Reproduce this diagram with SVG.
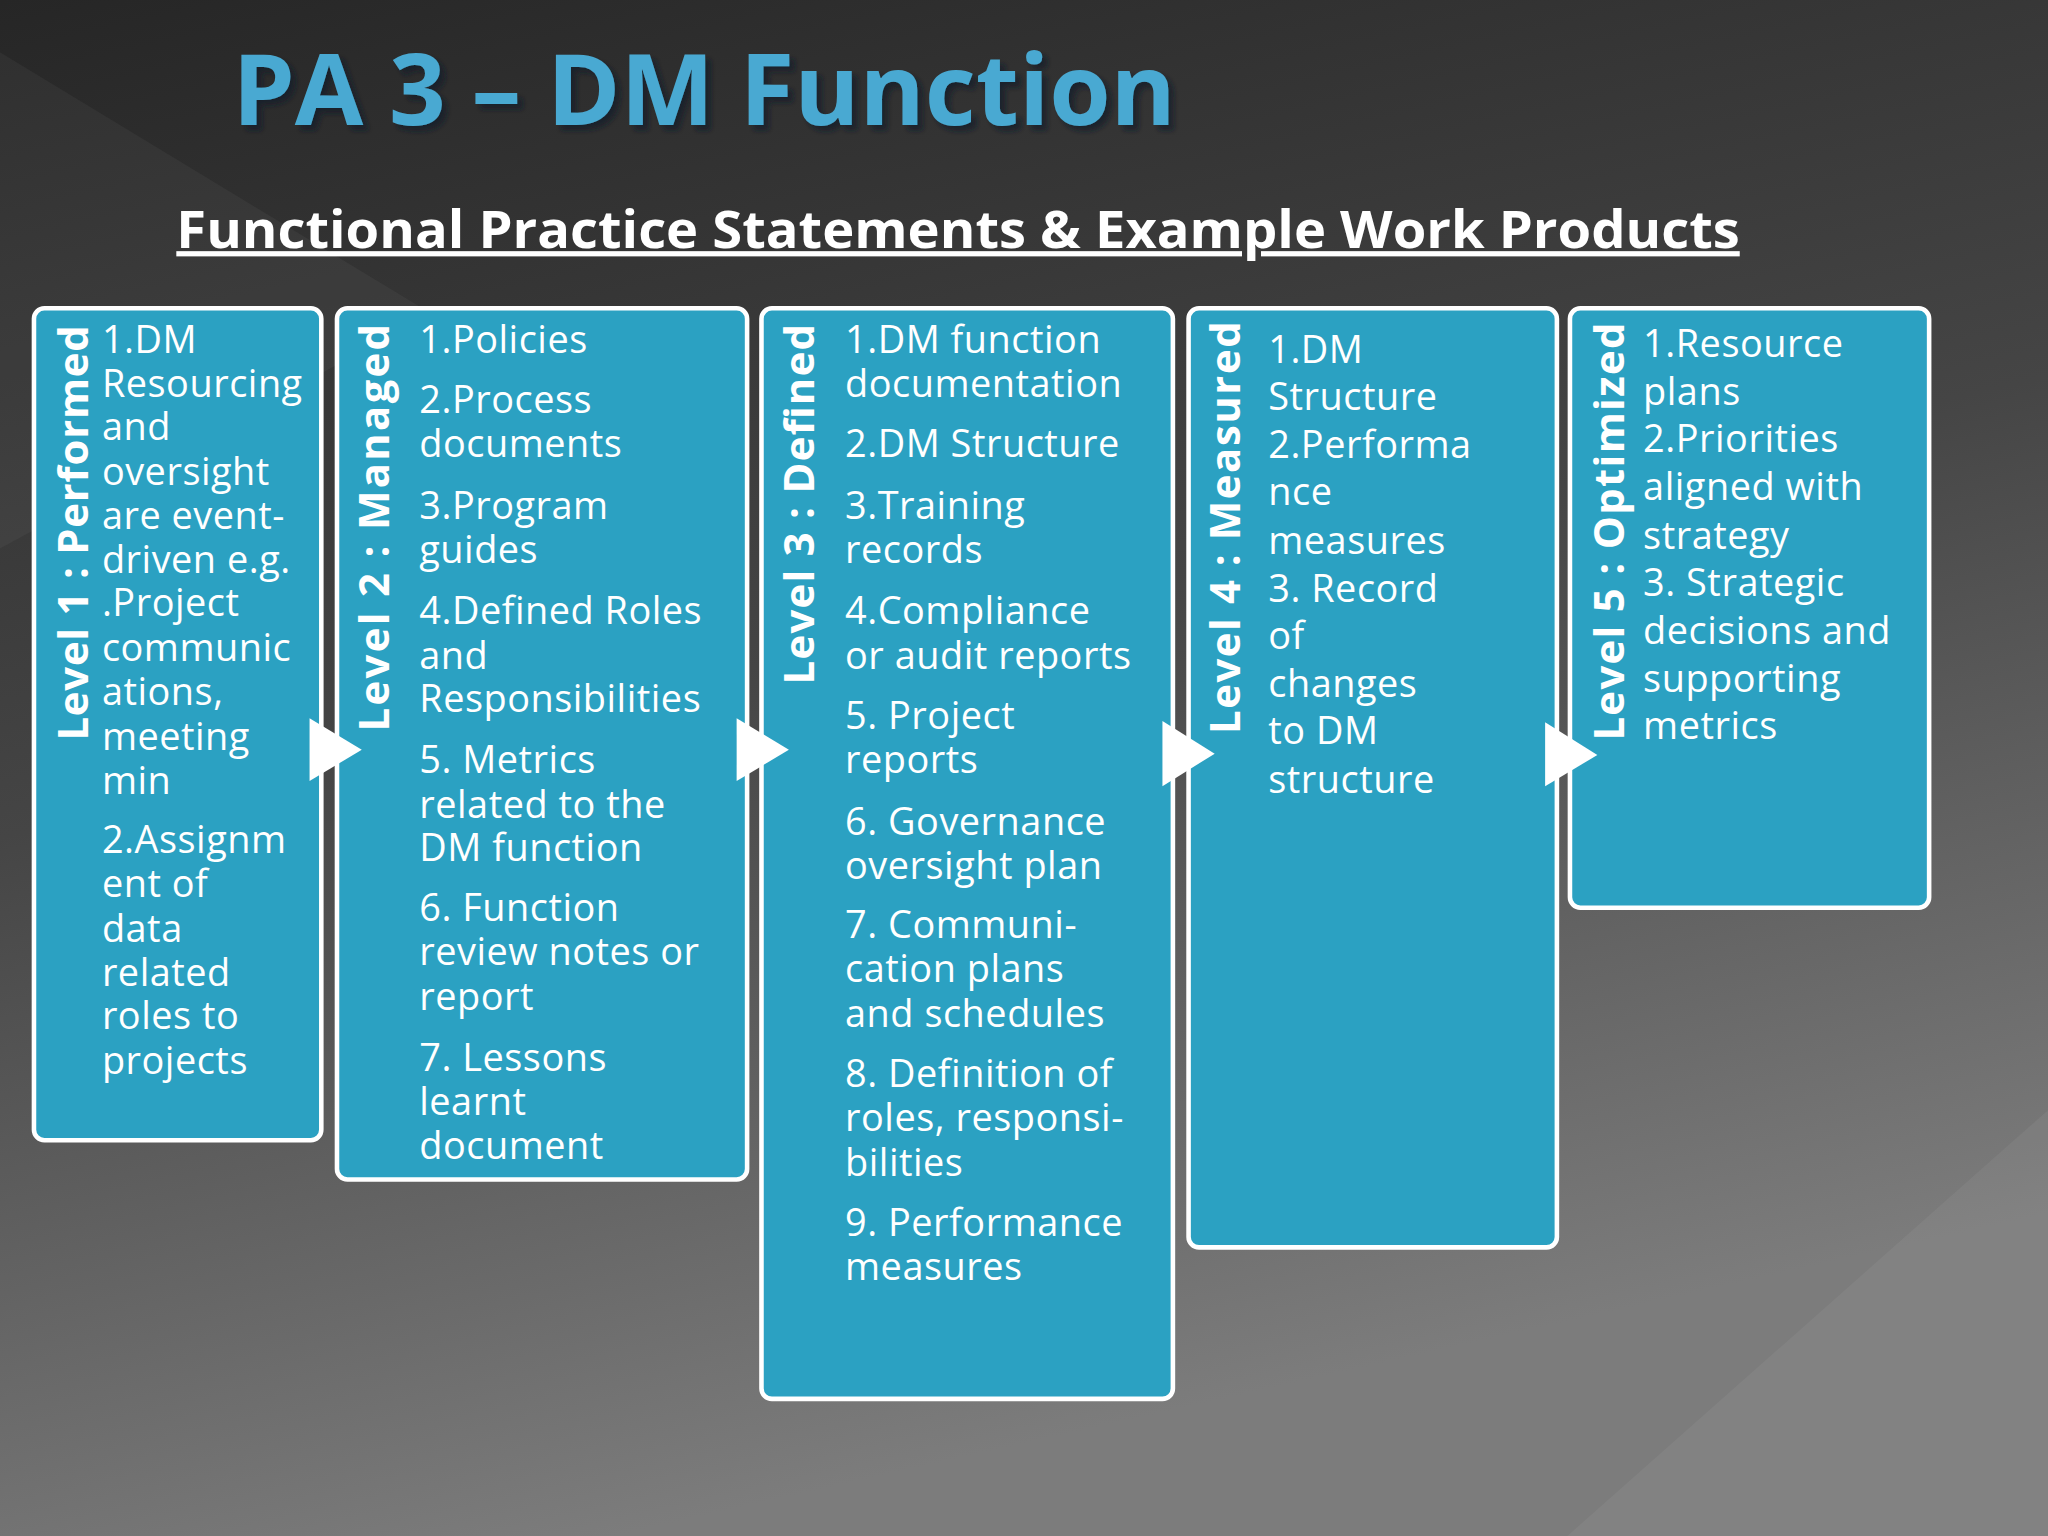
<svg xmlns="http://www.w3.org/2000/svg" width="2048" height="1536" viewBox="0 0 2048 1536">
<defs>
<linearGradient id="bg" x1="0" y1="0" x2="0.3" y2="1"><stop offset="0" stop-color="#262626"/><stop offset="0.5" stop-color="#454545"/><stop offset="1" stop-color="#7c7c7c"/></linearGradient>
<filter id="sh" x="-5%" y="-20%" width="110%" height="140%"><feDropShadow dx="4" dy="4" stdDeviation="2" flood-color="#0a1a25" flood-opacity="0.7"/></filter>
<style>
.box{fill:#2ba1c2;stroke:#fff;stroke-width:3.5}
.t{font-family:"Open Sans","DejaVu Sans",sans-serif;font-size:29px;fill:#fff;letter-spacing:0.4px}
.lv{font-family:"Open Sans","DejaVu Sans",sans-serif;font-size:32px;font-weight:bold;fill:#fff}
.arr{fill:#fff}
</style>
</defs>
<g transform="scale(1.30612)">
<rect width="1568" height="1176" fill="url(#bg)"/>
<polygon points="0,40 330,240 0,420" fill="#ffffff" opacity="0.04"/>
<polygon points="1568,850 1568,1176 1200,1176" fill="#ffffff" opacity="0.05"/>
<text x="178" y="96" font-family="'Open Sans','DejaVu Sans',sans-serif" font-size="76" font-weight="bold" fill="#4aa9d2" filter="url(#sh)">PA 3 – DM Function</text>
<text x="135" y="190" font-family="'Open Sans','DejaVu Sans',sans-serif" font-size="40" font-weight="bold" fill="#fff" text-decoration="underline" textLength="1197" lengthAdjust="spacingAndGlyphs">Functional Practice Statements &amp; Example Work Products</text>
<g id="level1"><rect class="box" x="26" y="236" width="220" height="637" rx="8"/>
<text class="lv" transform="translate(67,567) rotate(-90)" textLength="318">Level 1 : Performed</text>
<text class="t"><tspan x="78" y="270">1.DM</tspan><tspan x="78" y="304">Resourcing</tspan><tspan x="78" y="337">and</tspan><tspan x="78" y="371">oversight</tspan><tspan x="78" y="405">are event-</tspan><tspan x="78" y="439">driven e.g.</tspan><tspan x="78" y="472">.Project</tspan><tspan x="78" y="506">communic</tspan><tspan x="78" y="540">ations,</tspan><tspan x="78" y="574">meeting</tspan><tspan x="78" y="608">min</tspan><tspan x="78" y="653">2.Assignm</tspan><tspan x="78" y="687">ent of</tspan><tspan x="78" y="721">data</tspan><tspan x="78" y="755">related</tspan><tspan x="78" y="788">roles to</tspan><tspan x="78" y="822">projects</tspan></text></g>
<g id="level2"><rect class="box" x="258" y="236" width="314" height="667" rx="8"/>
<text class="lv" transform="translate(298,560) rotate(-90)" textLength="312">Level 2 : Managed</text>
<text class="t"><tspan x="321" y="270">1.Policies</tspan><tspan x="321" y="316">2.Process</tspan><tspan x="321" y="350">documents</tspan><tspan x="321" y="397">3.Program</tspan><tspan x="321" y="431">guides</tspan><tspan x="321" y="478">4.Defined Roles</tspan><tspan x="321" y="512">and</tspan><tspan x="321" y="545">Responsibilities</tspan><tspan x="321" y="592">5. Metrics</tspan><tspan x="321" y="626">related to the</tspan><tspan x="321" y="659">DM function</tspan><tspan x="321" y="705">6. Function</tspan><tspan x="321" y="739">review notes or</tspan><tspan x="321" y="773">report</tspan><tspan x="321" y="820">7. Lessons</tspan><tspan x="321" y="854">learnt</tspan><tspan x="321" y="887">document</tspan></text></g>
<g id="level3"><rect class="box" x="583" y="236" width="315" height="835" rx="8"/>
<text class="lv" transform="translate(623,524) rotate(-90)" textLength="276">Level 3 : Defined</text>
<text class="t"><tspan x="647" y="270">1.DM function</tspan><tspan x="647" y="304">documentation</tspan><tspan x="647" y="350">2.DM Structure</tspan><tspan x="647" y="397">3.Training</tspan><tspan x="647" y="431">records</tspan><tspan x="647" y="478">4.Compliance</tspan><tspan x="647" y="512">or audit reports</tspan><tspan x="647" y="558">5. Project</tspan><tspan x="647" y="592">reports</tspan><tspan x="647" y="639">6. Governance</tspan><tspan x="647" y="673">oversight plan</tspan><tspan x="647" y="718">7. Communi-</tspan><tspan x="647" y="752">cation plans</tspan><tspan x="647" y="786">and schedules</tspan><tspan x="647" y="832">8. Definition of</tspan><tspan x="647" y="866">roles, responsi-</tspan><tspan x="647" y="900">bilities</tspan><tspan x="647" y="946">9. Performance</tspan><tspan x="647" y="980">measures</tspan></text></g>
<g id="level4"><rect class="box" x="910" y="236" width="282" height="719" rx="8"/>
<text class="lv" transform="translate(949,562) rotate(-90)" textLength="316">Level 4 : Measured</text>
<text class="t"><tspan x="971" y="278">1.DM</tspan><tspan x="971" y="314">Structure</tspan><tspan x="971" y="351">2.Performa</tspan><tspan x="971" y="387">nce</tspan><tspan x="971" y="424">measures</tspan><tspan x="971" y="461">3. Record</tspan><tspan x="971" y="497">of</tspan><tspan x="971" y="534">changes</tspan><tspan x="971" y="570">to DM</tspan><tspan x="971" y="607">structure</tspan></text></g>
<g id="level5"><rect class="box" x="1202" y="236" width="275" height="459" rx="8"/>
<text class="lv" transform="translate(1243,567) rotate(-90)" textLength="320">Level 5 : Optimized</text>
<text class="t"><tspan x="1258" y="273">1.Resource</tspan><tspan x="1258" y="310">plans</tspan><tspan x="1258" y="346">2.Priorities</tspan><tspan x="1258" y="383">aligned with</tspan><tspan x="1258" y="420">strategy</tspan><tspan x="1258" y="456">3. Strategic</tspan><tspan x="1258" y="493">decisions and</tspan><tspan x="1258" y="530">supporting</tspan><tspan x="1258" y="566">metrics</tspan></text></g>
<g id="connectors">
<polygon class="arr" points="237,550 277,574 237,598"/>
<polygon class="arr" points="564,550 604,574 564,598"/>
<polygon class="arr" points="890,552 930,577 890,602"/>
<polygon class="arr" points="1183,553 1223,578 1183,602"/>
</g>
</g>
</svg>
